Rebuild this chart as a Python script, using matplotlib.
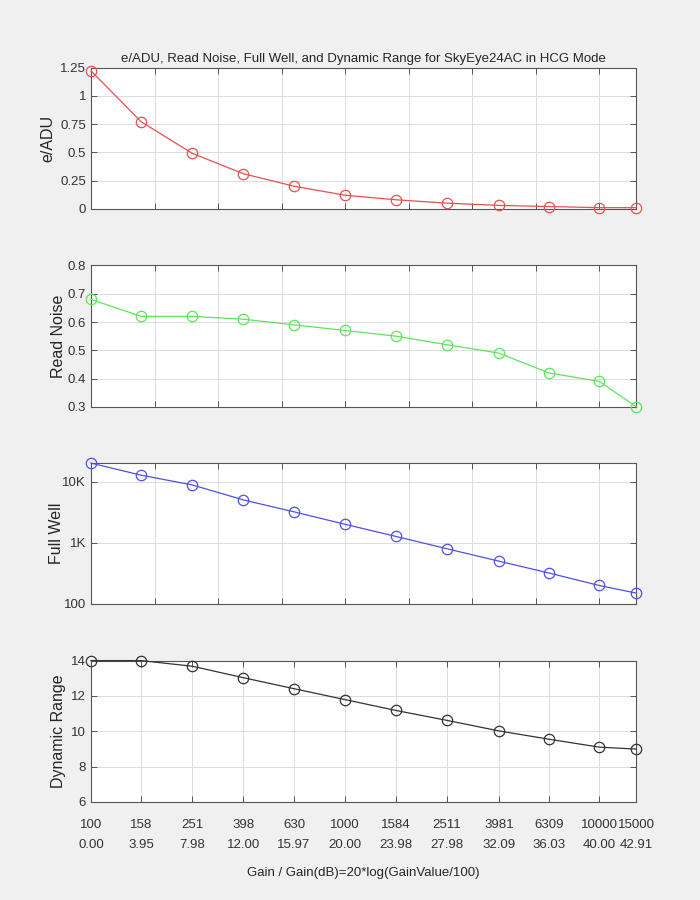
import matplotlib
matplotlib.use("Agg")
import matplotlib.pyplot as plt
from matplotlib.ticker import FixedLocator, NullFormatter

plt.rcParams['font.family'] = ['Liberation Sans', 'DejaVu Sans']

# gain settings and their dB values
gain = ['100', '158', '251', '398', '630', '1000', '1584', '2511', '3981', '6309', '10000', '15000']
gain_db = [0.00, 3.95, 7.98, 12.00, 15.97, 20.00, 23.98, 27.98, 32.09, 36.03, 40.00, 42.91]

e_adu = [1.22, 0.77, 0.49, 0.31, 0.20, 0.12, 0.08, 0.05, 0.03, 0.02, 0.01, 0.01]
read_noise = [0.68, 0.62, 0.62, 0.61, 0.59, 0.57, 0.55, 0.52, 0.49, 0.42, 0.39, 0.30]
full_well = [20000, 12700, 8800, 5000, 3200, 2000, 1270, 800, 500, 320, 200, 150]
dyn_range = [14.0, 14.0, 13.68, 13.03, 12.41, 11.79, 11.18, 10.62, 10.02, 9.55, 9.10, 8.99]

bg = '#f0f0f0'
edge = '#555555'
tick_col = '#333333'
grid_col = '#dcdcdc'

fig = plt.figure(figsize=(7, 9), dpi=100, facecolor=bg)

L, W, H = 0.130, 0.779, 0.157
bottoms = [0.768, 0.548, 0.329, 0.109]
axes = [fig.add_axes([L, b, W, H]) for b in bottoms]

# label x position in pixels (right edge of the rotated text)
series = [
    (e_adu, '#e85050', 'e/ADU', 55),
    (read_noise, '#5ce65c', 'Read Noise', 66),
    (full_well, '#5050e8', 'Full Well', 64),
    (dyn_range, '#333333', 'Dynamic Range', 66),
]

for i, (ax, (vals, col, lab, lx)) in enumerate(zip(axes, series)):
    ax.plot(gain_db, vals, '-o', color=col, lw=0.9, ms=7.5,
            mfc='none', mec=col, mew=0.9, clip_on=False, zorder=3)
    ax.set_xlim(0, 42.91)
    ax.set_facecolor('white')
    for s in ax.spines.values():
        s.set_color(edge)
        s.set_linewidth(0.8)
    ax.tick_params(direction='in', top=True, right=True, length=4,
                   width=0.7, color=edge, labelsize=9.5, labelcolor=tick_col)
    ax.set_ylabel(lab, fontsize=11.5, color='#262626')
    ax.yaxis.set_label_coords((lx - 91) / 545.0, 0.5)
    ax.grid(True, color=grid_col, lw=0.7)
    ax.set_axisbelow(True)
    if i < 3:
        ax.xaxis.set_major_locator(FixedLocator([5, 10, 15, 20, 25, 30, 35, 40]))
        ax.xaxis.set_major_formatter(NullFormatter())

axes[0].set_ylim(0, 1.25)
axes[0].set_yticks([0, 0.25, 0.5, 0.75, 1, 1.25])
axes[0].set_yticklabels(['0', '0.25', '0.5', '0.75', '1', '1.25'])
axes[0].set_title('e/ADU, Read Noise, Full Well, and Dynamic Range for SkyEye24AC in HCG Mode',
                  fontsize=9.5, color='#262626', pad=4)

axes[1].set_ylim(0.3, 0.8)
axes[1].set_yticks([0.3, 0.4, 0.5, 0.6, 0.7, 0.8])

axes[2].set_yscale('log')
axes[2].set_ylim(100, 20400)
axes[2].set_yticks([100, 1000, 10000])
axes[2].set_yticklabels(['100', '1K', '10K'])
axes[2].yaxis.set_minor_locator(FixedLocator([]))

axes[3].set_ylim(6, 14)
axes[3].set_yticks([6, 8, 10, 12, 14])
axes[3].set_xticks(gain_db)
axes[3].set_xticklabels([g + '\n' + f'{d:.2f}' for g, d in zip(gain, gain_db)],
                        linespacing=1.9)
axes[3].tick_params(axis='x', pad=12)
axes[3].set_xlabel('Gain / Gain(dB)=20*log(GainValue/100)', fontsize=9.5,
                   color='#262626', labelpad=12)

fig.savefig('out.png', dpi=100, facecolor=bg)
